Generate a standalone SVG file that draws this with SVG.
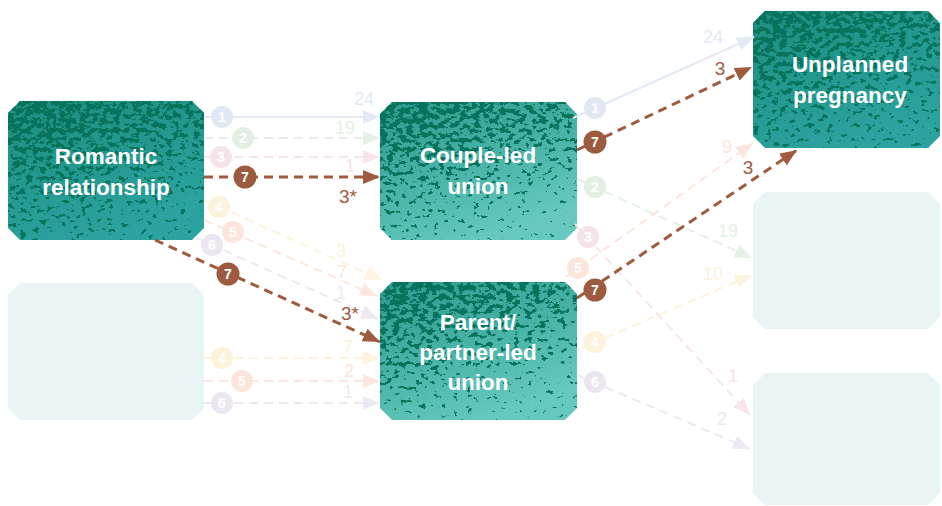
<svg xmlns="http://www.w3.org/2000/svg" width="942" height="506" viewBox="0 0 942 506">
<style>
.nt{font-family:"Liberation Sans",Arial,sans-serif;font-weight:bold;font-size:22.5px;fill:#ffffff;text-anchor:middle}
.lb{font-family:"Liberation Sans",Arial,sans-serif;font-size:18px;text-anchor:middle}
.cn{font-family:"Liberation Sans",Arial,sans-serif;font-weight:bold;font-size:14px;fill:#ffffff;text-anchor:middle}
.br{stroke:#a05a3e;stroke-width:3;fill:none;stroke-dasharray:9 6}
.fd{stroke-width:2;fill:none;stroke-dasharray:9 6}
.fs{stroke-width:2;fill:none}
.bl{font-size:19px;fill:#a05a3e}
</style>
<defs>
<linearGradient id="gDark" x1="0" y1="0" x2="0.5" y2="1">
<stop offset="0" stop-color="#1d8e7e"/><stop offset="1" stop-color="#2ba3a0"/>
</linearGradient>
<linearGradient id="gLight" x1="0" y1="0" x2="0.5" y2="1">
<stop offset="0" stop-color="#289a8b"/><stop offset="1" stop-color="#66c8bf"/>
</linearGradient>
<linearGradient id="fadeA" x1="0" y1="0" x2="0.4" y2="1">
<stop offset="0" stop-color="#000" stop-opacity="0.42"/><stop offset="1" stop-color="#000" stop-opacity="0.15"/>
</linearGradient>
<linearGradient id="fadeB" x1="0" y1="0" x2="0.4" y2="1">
<stop offset="0" stop-color="#000" stop-opacity="0.42"/><stop offset="1" stop-color="#000" stop-opacity="0.1"/>
</linearGradient>
<filter id="speck" x="0" y="0" width="1" height="1" color-interpolation-filters="sRGB">
<feTurbulence type="fractalNoise" baseFrequency="0.15 0.21" numOctaves="3" seed="5" result="n"/>
<feColorMatrix in="n" type="matrix" values="0 0 0 0 0  0 0 0 0 0  0 0 0 0 0  1 0 0 0 0" result="na"/>
<feComposite in="na" in2="SourceGraphic" operator="arithmetic" k1="0" k2="1" k3="1" k4="0" result="sum"/>
<feComponentTransfer in="sum" result="thr"><feFuncA type="linear" slope="25" intercept="-20.5"/></feComponentTransfer>
<feFlood flood-color="#08735d"/>
<feComposite in2="thr" operator="in"/>
</filter>
<clipPath id="cpR"><path d="M20,101 H192 L204,113 V228 L192,240 H20 L8,228 V113 Z"/></clipPath>
<clipPath id="cpC"><path d="M392,102 H565 L577,114 V228 L565,240 H392 L380,228 V114 Z"/></clipPath>
<clipPath id="cpP"><path d="M392,282 H565 L577,294 V408 L565,420 H392 L380,408 V294 Z"/></clipPath>
<clipPath id="cpU"><path d="M765,11 H928 L940,23 V136 L928,148 H765 L753,136 V23 Z"/></clipPath>
<marker id="aBr" markerUnits="userSpaceOnUse" markerWidth="18" markerHeight="14" refX="17" refY="7" orient="auto"><path d="M0,0 L17,7 L0,14 Z" fill="#a05a3e"/></marker>
<marker id="aBl" markerUnits="userSpaceOnUse" markerWidth="18" markerHeight="14" refX="17" refY="7" orient="auto"><path d="M0,0 L17,7 L0,14 Z" fill="#e3e9f5"/></marker>
<marker id="aGr" markerUnits="userSpaceOnUse" markerWidth="18" markerHeight="14" refX="17" refY="7" orient="auto"><path d="M0,0 L17,7 L0,14 Z" fill="#e4f1e4"/></marker>
<marker id="aPk" markerUnits="userSpaceOnUse" markerWidth="18" markerHeight="14" refX="17" refY="7" orient="auto"><path d="M0,0 L17,7 L0,14 Z" fill="#f7e5eb"/></marker>
<marker id="aYe" markerUnits="userSpaceOnUse" markerWidth="18" markerHeight="14" refX="17" refY="7" orient="auto"><path d="M0,0 L17,7 L0,14 Z" fill="#fdf3de"/></marker>
<marker id="aOr" markerUnits="userSpaceOnUse" markerWidth="18" markerHeight="14" refX="17" refY="7" orient="auto"><path d="M0,0 L17,7 L0,14 Z" fill="#fce7de"/></marker>
<marker id="aPu" markerUnits="userSpaceOnUse" markerWidth="18" markerHeight="14" refX="17" refY="7" orient="auto"><path d="M0,0 L17,7 L0,14 Z" fill="#eee8f2"/></marker>
</defs>
<rect width="942" height="506" fill="#ffffff"/>

<g id="node-romantic">
<g clip-path="url(#cpR)">
<rect x="8" y="101" width="196" height="139" fill="url(#gDark)"/>
<rect x="8" y="101" width="196" height="139" fill="url(#fadeA)" filter="url(#speck)"/>
</g>
<text class="nt" x="106" y="164">Romantic</text>
<text class="nt" x="106" y="195">relationship</text>
</g>
<g id="node-left-faded">
<path d="M20,283 H192 L204,295 V408 L192,420 H20 L8,408 V295 Z" fill="#e8f5f4"/>
</g>
<g id="node-couple">
<g clip-path="url(#cpC)">
<rect x="380" y="102" width="197" height="138" fill="url(#gLight)"/>
<rect x="380" y="102" width="197" height="138" fill="url(#fadeB)" filter="url(#speck)"/>
</g>
<text class="nt" x="478" y="163">Couple-led</text>
<text class="nt" x="478" y="194">union</text>
</g>
<g id="node-parent">
<g clip-path="url(#cpP)">
<rect x="380" y="282" width="197" height="138" fill="url(#gLight)"/>
<rect x="380" y="282" width="197" height="138" fill="url(#fadeB)" filter="url(#speck)"/>
</g>
<text class="nt" x="478" y="330">Parent/</text>
<text class="nt" x="478" y="360">partner-led</text>
<text class="nt" x="478" y="390">union</text>
</g>
<g id="node-unplanned">
<g clip-path="url(#cpU)">
<rect x="753" y="11" width="187" height="137" fill="url(#gDark)"/>
<rect x="753" y="11" width="187" height="137" fill="url(#fadeA)" filter="url(#speck)"/>
</g>
<text class="nt" x="850" y="72">Unplanned</text>
<text class="nt" x="850" y="103">pregnancy</text>
</g>
<g id="node-right-faded-1">
<path d="M765,192 H928 L940,204 V317 L928,329 H765 L753,317 V204 Z" fill="#e8f5f4"/>
</g>
<g id="node-right-faded-2">
<path d="M765,373 H928 L940,385 V493 L928,505 H765 L753,493 V385 Z" fill="#e8f5f4"/>
</g>

<g id="connectors">
<path class="fs" stroke="#e3e9f5" d="M204,117 H380" marker-end="url(#aBl)"/>
<path class="fd" stroke="#e4f1e4" d="M204,138 H380" marker-end="url(#aGr)"/>
<path class="fd" stroke="#f7e5eb" d="M204,157 H380" marker-end="url(#aPk)"/>
<path class="fd" stroke="#fdf3de" d="M204,200 L382,280" marker-end="url(#aYe)"/>
<path class="fd" stroke="#fce7de" d="M204,220 L377,296" marker-end="url(#aOr)"/>
<path class="fd" stroke="#eee8f2" d="M196,238 L378,319" marker-end="url(#aPu)"/>
<path class="fd" stroke="#fdf3de" d="M204,358 H380" marker-end="url(#aYe)"/>
<path class="fd" stroke="#fce7de" d="M204,381 H380" marker-end="url(#aOr)"/>
<path class="fd" stroke="#eee8f2" d="M204,403 H380" marker-end="url(#aPu)"/>
<path class="fs" stroke="#e3e9f5" d="M573,118 L754,37" marker-end="url(#aBl)"/>
<path class="fd" stroke="#e4f1e4" d="M577,179 L752,258" marker-end="url(#aGr)"/>
<path class="fd" stroke="#f7e5eb" d="M575,224 L750,415" marker-end="url(#aPk)"/>
<path class="fd" stroke="#fce7de" d="M566,277 L753,143" marker-end="url(#aOr)"/>
<path class="fd" stroke="#fdf3de" d="M577,350 L752,275" marker-end="url(#aYe)"/>
<path class="fd" stroke="#eee8f2" d="M577,375 L750,449" marker-end="url(#aPu)"/>

<circle cx="222" cy="117" r="11" fill="#e1e8f4"/><text class="cn" x="222" y="122">1</text>
<circle cx="243" cy="138" r="11" fill="#e1f0e2"/><text class="cn" x="243" y="143">2</text>
<circle cx="221" cy="157" r="11" fill="#f6e3ea"/><text class="cn" x="221" y="162">3</text>
<circle cx="219" cy="207" r="11" fill="#fdf2da"/><text class="cn" x="219" y="212">4</text>
<circle cx="233" cy="232" r="11" fill="#fce5da"/><text class="cn" x="233" y="237">5</text>
<circle cx="212" cy="245" r="11" fill="#ece6f0"/><text class="cn" x="212" y="250">6</text>
<circle cx="222" cy="358" r="11" fill="#fdf2da"/><text class="cn" x="222" y="363">4</text>
<circle cx="242" cy="381" r="11" fill="#fce5da"/><text class="cn" x="242" y="386">5</text>
<circle cx="222" cy="403" r="11" fill="#ece6f0"/><text class="cn" x="222" y="408">6</text>
<circle cx="595" cy="108" r="11" fill="#e1e8f4"/><text class="cn" x="595" y="113">1</text>
<circle cx="595" cy="187" r="11" fill="#e1f0e2"/><text class="cn" x="595" y="192">2</text>
<circle cx="588" cy="237" r="11" fill="#f6e3ea"/><text class="cn" x="588" y="242">3</text>
<circle cx="578" cy="268" r="11" fill="#fce5da"/><text class="cn" x="578" y="273">5</text>
<circle cx="595" cy="342" r="11" fill="#fdf2da"/><text class="cn" x="595" y="347">4</text>
<circle cx="595" cy="382" r="11" fill="#ece6f0"/><text class="cn" x="595" y="387">6</text>

<text class="lb" x="364" y="105" fill="#e2e9f5">24</text>
<text class="lb" x="345" y="134" fill="#e3f1e3">19</text>
<text class="lb" x="350" y="172" fill="#f7e3ea">1</text>
<text class="lb" x="341" y="257" fill="#fdf2dc">3</text>
<text class="lb" x="342" y="278" fill="#fce5db">7</text>
<text class="lb" x="341" y="298.5" fill="#eee8f2">1</text>
<text class="lb" x="348" y="353" fill="#fdf2dc">7</text>
<text class="lb" x="349" y="377" fill="#fce5db">2</text>
<text class="lb" x="348" y="398" fill="#eee8f2">1</text>
<text class="lb" x="713" y="43" fill="#e2e9f5">24</text>
<text class="lb" x="727" y="153" fill="#fce5db">9</text>
<text class="lb" x="728" y="237" fill="#e3f1e3">19</text>
<text class="lb" x="713" y="280" fill="#fdf2dc">10</text>
<text class="lb" x="733" y="382" fill="#f7e3ea">1</text>
<text class="lb" x="722" y="425" fill="#eee8f2">2</text>

<path class="br" d="M204,177 H380" marker-end="url(#aBr)"/>
<path class="br" d="M155,240 L380,342" marker-end="url(#aBr)"/>
<path class="br" d="M577,150 L752,67" marker-end="url(#aBr)"/>
<path class="br" d="M577,298 L797,150" marker-end="url(#aBr)"/>
<circle cx="245" cy="177" r="11.5" fill="#9c5a3f"/><text class="cn" x="245" y="182">7</text>
<circle cx="228" cy="274" r="11.5" fill="#9c5a3f"/><text class="cn" x="228" y="279">7</text>
<circle cx="595" cy="142" r="11.5" fill="#9c5a3f"/><text class="cn" x="595" y="147">7</text>
<circle cx="595" cy="290" r="11.5" fill="#9c5a3f"/><text class="cn" x="595" y="295">7</text>
<text class="lb bl" x="348" y="203">3*</text>
<text class="lb bl" x="350" y="320">3*</text>
<text class="lb bl" x="720" y="75">3</text>
<text class="lb bl" x="748" y="174">3</text>
</g>
</svg>
